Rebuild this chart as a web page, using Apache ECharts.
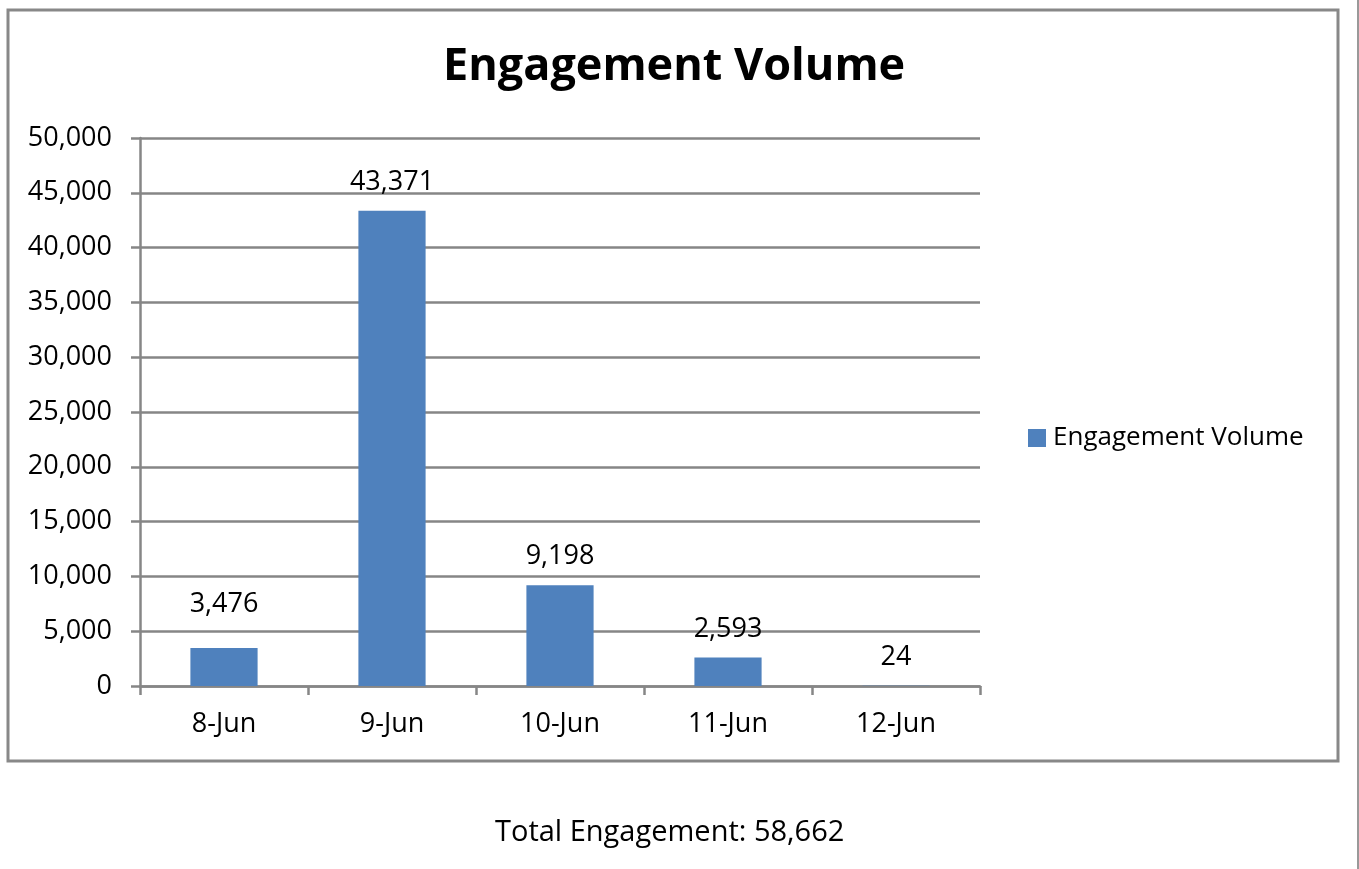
<!DOCTYPE html>
<html>
<head>
<meta charset="utf-8">
<script src="https://cdn.jsdelivr.net/npm/echarts@6/dist/echarts.min.js"></script>
<style>
  html, body { margin: 0; padding: 0; background: #fff; }
  #main { width: 1359px; height: 869px; }
</style>
</head>
<body>
<div id="main"></div>
<script>
// chart data
var categories = ['8-Jun', '9-Jun', '10-Jun', '11-Jun', '12-Jun'];
var engagement = [3476, 43371, 9198, 2593, 24];
var seriesName = 'Engagement Volume';
var totalText = 'Total Engagement: 58,662';

var FONT = 'Open Sans';
var GRID = '#868686';
var LABEL_SIZE = 27;

function commas(v) {
  return String(v).replace(/\B(?=(\d{3})+(?!\d))/g, ',');
}

var chart = echarts.init(document.getElementById('main'));

// first label sits a bit higher in the original
var barData = engagement.map(function (v, i) {
  return i === 0 ? { value: v, label: { distance: 30 } } : v;
});

var option = {
  animation: false,
  textStyle: { fontFamily: FONT },
  title: [
    {
      text: seriesName,
      left: 438,
      top: 40,
      textStyle: { fontFamily: FONT, fontSize: 45, fontWeight: 'bold', color: '#000' }
    },
    {
      text: totalText,
      left: 490,
      top: 813,
      textStyle: { fontFamily: FONT, fontSize: 29, fontWeight: 'normal', color: '#000' }
    }
  ],
  graphic: [
    {
      type: 'rect',
      shape: { x: 8, y: 10, width: 1330, height: 751 },
      style: { fill: 'none', stroke: '#888', lineWidth: 3 },
      z: -1
    },
    {
      type: 'line',
      shape: { x1: 1358, y1: 0, x2: 1358, y2: 869 },
      style: { stroke: '#999', lineWidth: 2 }
    }
  ],
  legend: {
    orient: 'vertical',
    left: 1023,
    top: 420,
    itemWidth: 18,
    itemHeight: 18,
    itemGap: 8,
    icon: 'rect',
    textStyle: { fontFamily: FONT, fontSize: 26, color: '#000', padding: [0, 0, 0, 2] },
    data: [seriesName]
  },
  grid: { left: 140, right: 379, top: 138, bottom: 183, containLabel: false },
  xAxis: {
    type: 'category',
    data: categories,
    boundaryGap: true,
    axisLine: { lineStyle: { color: GRID, width: 2.5 } },
    axisTick: { show: true, alignWithLabel: false, length: 9, lineStyle: { color: GRID, width: 2.5 } },
    axisLabel: { margin: 25, fontFamily: FONT, fontSize: LABEL_SIZE, color: '#000' }
  },
  yAxis: {
    type: 'value',
    min: 0,
    max: 50000,
    interval: 5000,
    axisLine: { show: true, lineStyle: { color: GRID, width: 2.5 } },
    axisTick: { show: true, length: 9, lineStyle: { color: GRID, width: 2.5 } },
    splitLine: { lineStyle: { color: GRID, width: 2.5 } },
    axisLabel: {
      margin: 28,
      fontFamily: FONT,
      fontSize: LABEL_SIZE,
      color: '#000',
      formatter: function (v) { return commas(v); }
    }
  },
  series: [
    {
      name: seriesName,
      type: 'bar',
      data: barData,
      barWidth: '40%',
      itemStyle: { color: '#4F81BD' },
      label: {
        show: true,
        position: 'top',
        distance: 15,
        fontFamily: FONT,
        fontSize: LABEL_SIZE,
        color: '#000',
        formatter: function (p) { return commas(p.value); }
      }
    }
  ]
};

chart.setOption(option);
</script>
</body>
</html>
